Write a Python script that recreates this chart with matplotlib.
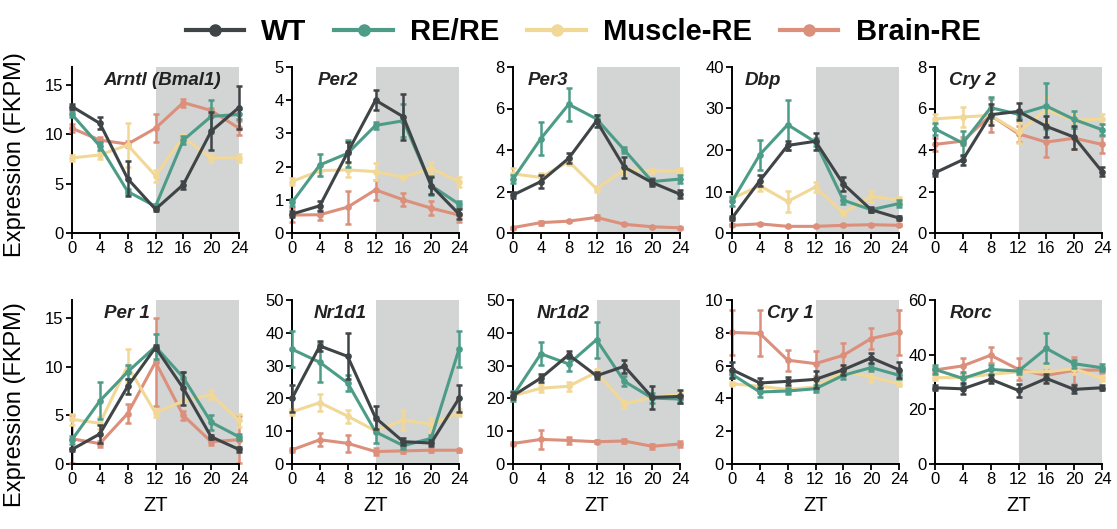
import matplotlib.pyplot as plt
from matplotlib.lines import Line2D
import numpy as np

plt.rcParams['font.family'] = ['Liberation Sans', 'DejaVu Sans']

# ZT time points and groups
zt = [0, 4, 8, 12, 16, 20, 24]
groups = ['WT', 'RE/RE', 'Muscle-RE', 'Brain-RE']
colors = ['#3f4446', '#4c9c88', '#f2d896', '#dc8f7b']

# mean expression per gene, rows in order WT, RE/RE, Muscle-RE, Brain-RE
arntl_mean = [[12.8, 11.1, 5.5, 2.4, 4.9, 10.3, 12.7],
              [12.0, 8.8, 4.2, 2.7, 9.4, 11.8, 12.0],
              [7.6, 7.9, 8.9, 5.8, 9.7, 7.6, 7.6],
              [10.6, 9.4, 9.0, 10.6, 13.2, 12.4, 10.6]]
arntl_sem = [[0.3, 0.6, 1.8, 0.2, 0.4, 1.9, 2.2],
             [0.3, 0.4, 0.3, 0.2, 0.4, 1.7, 0.5],
             [0.3, 0.4, 2.2, 0.6, 0.3, 0.4, 0.4],
             [0.4, 0.3, 0.3, 1.4, 0.4, 0.3, 0.7]]

per2_mean = [[0.57, 0.82, 2.43, 4.0, 3.5, 1.43, 0.57],
             [0.92, 2.05, 2.4, 3.24, 3.38, 1.43, 0.87],
             [1.55, 1.88, 1.9, 1.85, 1.68, 1.95, 1.55],
             [0.54, 0.55, 0.78, 1.3, 1.0, 0.75, 0.54]]
per2_sem = [[0.1, 0.15, 0.3, 0.3, 0.7, 0.25, 0.15],
            [0.1, 0.33, 0.4, 0.1, 0.5, 0.3, 0.1],
            [0.1, 0.15, 0.2, 0.25, 0.05, 0.2, 0.15],
            [0.2, 0.15, 0.5, 0.3, 0.2, 0.2, 0.2]]

per3_mean = [[1.83, 2.48, 3.6, 5.4, 3.17, 2.43, 1.87],
             [2.6, 4.55, 6.2, 5.5, 4.0, 2.48, 2.6],
             [2.85, 2.68, 3.45, 2.13, 3.05, 3.0, 2.97],
             [0.26, 0.5, 0.57, 0.75, 0.42, 0.3, 0.25]]
per3_sem = [[0.15, 0.3, 0.25, 0.3, 0.5, 0.15, 0.2],
            [0.2, 0.8, 0.8, 0.2, 0.15, 0.15, 0.2],
            [0.3, 0.2, 0.15, 0.15, 0.2, 0.1, 0.15],
            [0.05, 0.1, 0.05, 0.1, 0.05, 0.05, 0.05]]

dbp_mean = [[3.6, 12.6, 21.1, 22.1, 11.8, 5.6, 3.6],
            [7.6, 18.9, 26.1, 21.9, 7.9, 5.6, 7.1],
            [8.3, 11.4, 7.6, 11.1, 4.8, 8.8, 8.0],
            [1.85, 2.2, 1.6, 1.6, 1.85, 2.0, 1.85]]
dbp_sem = [[0.5, 1.3, 1.0, 2.0, 1.6, 0.6, 0.5],
           [1.0, 3.6, 6.0, 1.0, 1.0, 0.5, 0.8],
           [0.5, 1.2, 2.5, 1.3, 0.5, 1.4, 0.6],
           [0.2, 0.3, 0.2, 0.2, 0.2, 0.2, 0.2]]

cry2_mean = [[2.9, 3.53, 5.7, 5.86, 5.14, 4.62, 2.96],
             [5.02, 4.33, 6.04, 5.72, 6.12, 5.47, 4.98],
             [5.5, 5.59, 5.67, 4.86, 5.94, 5.43, 5.5],
             [4.27, 4.43, 5.67, 4.78, 4.38, 4.57, 4.27]]
cry2_sem = [[0.15, 0.25, 0.5, 0.4, 0.5, 0.55, 0.2],
            [0.3, 0.6, 0.5, 0.2, 1.1, 0.4, 0.25],
            [0.25, 0.5, 0.3, 0.5, 0.6, 0.3, 0.25],
            [0.3, 0.2, 0.8, 0.4, 0.7, 0.5, 0.4]]

per1_mean = [[1.5, 3.1, 8.0, 12.0, 7.8, 2.8, 1.5],
             [2.5, 6.5, 9.5, 12.1, 8.9, 4.3, 2.8],
             [4.6, 4.2, 10.1, 5.25, 6.5, 7.15, 4.5],
             [2.6, 2.1, 5.2, 10.5, 5.0, 2.3, 2.5]]
per1_sem = [[0.2, 0.9, 0.8, 0.3, 1.7, 0.2, 0.3],
            [0.4, 1.9, 0.7, 1.3, 0.6, 0.8, 0.3],
            [0.6, 0.6, 1.7, 0.4, 0.3, 0.5, 0.7],
            [2.5, 0.3, 1.0, 4.5, 0.5, 0.3, 2.4]]

nr1d1_mean = [[20.0, 36.0, 32.8, 14.1, 6.8, 6.4, 20.0],
              [35.0, 31.0, 24.7, 9.8, 5.6, 7.8, 35.0],
              [15.9, 18.7, 14.6, 10.1, 13.4, 12.1, 15.7],
              [4.3, 7.4, 6.3, 3.8, 4.0, 4.2, 4.2]]
nr1d1_sem = [[4.0, 1.5, 7.0, 3.5, 1.0, 1.0, 4.0],
             [5.5, 6.0, 2.5, 3.5, 1.0, 1.0, 5.5],
             [1.0, 2.5, 2.0, 0.5, 3.0, 2.0, 1.0],
             [0.5, 2.0, 2.5, 1.0, 0.5, 0.5, 0.5]]

nr1d2_mean = [[20.8, 26.2, 33.3, 26.9, 29.8, 20.3, 20.6],
              [20.8, 33.6, 30.5, 37.9, 25.2, 20.1, 19.8],
              [20.8, 23.1, 23.7, 28.0, 18.4, 20.3, 21.3],
              [6.25, 7.5, 7.2, 6.8, 7.0, 5.4, 6.1]]
nr1d2_sem = [[1.0, 1.3, 1.0, 1.0, 2.0, 3.5, 2.0],
             [1.5, 3.5, 2.0, 5.5, 1.5, 1.5, 1.2],
             [0.5, 1.2, 1.3, 1.0, 1.2, 0.5, 1.0],
             [0.5, 2.8, 1.0, 0.5, 0.5, 0.7, 0.8]]

cry1_mean = [[5.75, 4.94, 5.04, 5.16, 5.75, 6.47, 5.75],
             [5.47, 4.39, 4.45, 4.59, 5.41, 5.88, 5.41],
             [4.9, 4.73, 4.55, 4.69, 5.65, 5.31, 4.9],
             [8.02, 7.96, 6.33, 6.12, 6.63, 7.65, 8.02]]
cry1_sem = [[0.5, 0.3, 0.25, 0.5, 0.3, 0.3, 0.5],
            [0.2, 0.3, 0.2, 0.2, 0.2, 0.2, 0.2],
            [0.1, 0.3, 0.2, 0.3, 0.3, 0.3, 0.15],
            [1.35, 1.4, 0.65, 0.75, 0.75, 0.65, 1.35]]

rorc_mean = [[27.9, 27.5, 31.0, 26.9, 31.3, 27.3, 27.9],
             [34.6, 31.3, 34.6, 34.0, 42.3, 36.7, 35.2],
             [31.6, 31.6, 32.8, 33.7, 33.7, 34.9, 31.3],
             [34.4, 35.9, 39.8, 34.6, 32.4, 34.3, 34.4]]
rorc_sem = [[1.0, 2.0, 1.5, 2.5, 1.5, 1.5, 1.0],
            [1.5, 2.5, 1.5, 1.2, 5.5, 1.5, 1.3],
            [1.0, 1.0, 2.5, 1.0, 2.0, 2.0, 1.0],
            [1.2, 3.0, 3.0, 4.0, 2.0, 5.0, 1.0]]

genes = ['Arntl (Bmal1)', 'Per2', 'Per3', 'Dbp', 'Cry 2',
         'Per 1', 'Nr1d1', 'Nr1d2', 'Cry 1', 'Rorc']
means = [arntl_mean, per2_mean, per3_mean, dbp_mean, cry2_mean,
         per1_mean, nr1d1_mean, nr1d2_mean, cry1_mean, rorc_mean]
sems = [arntl_sem, per2_sem, per3_sem, dbp_sem, cry2_sem,
        per1_sem, nr1d1_sem, nr1d2_sem, cry1_sem, rorc_sem]
ymax = [16.8, 5, 8, 40, 8, 16.9, 50, 50, 10, 60]
ysteps = [5, 1, 2, 10, 2, 5, 10, 10, 2, 20]

# layout (pixels of a 1117x529 canvas)
W, H = 1117, 529
lefts = [72, 292, 513, 732, 935]
title_dx = [31, 26, 15, 13, 14, 32, 22, 24, 35, 15]
rows = [(67, 233), (300, 464)]

fig = plt.figure(figsize=(W / 100, H / 100), dpi=100)

for i, gene in enumerate(genes):
    r, c = divmod(i, 5)
    top, bot = rows[r]
    ax = fig.add_axes([lefts[c] / W, 1 - bot / H, 167 / W, (bot - top) / H])
    ax.axvspan(12, 24, color='#d3d4d4', lw=0, zorder=0)
    # draw Brain-RE first so WT sits on top
    for g in [3, 2, 1, 0]:
        ax.errorbar(zt, means[i][g], yerr=sems[i][g], color=colors[g],
                    lw=2.2, marker='o', ms=3.8, capsize=2.2, elinewidth=1.8,
                    capthick=1.8, clip_on=False, zorder=2 + (3 - g))
    ax.set_xlim(0, 24)
    ax.set_ylim(0, ymax[i])
    ax.set_xticks(zt)
    ax.set_yticks(np.arange(0, ymax[i] + 0.01, ysteps[i]))
    for s in ['top', 'right']:
        ax.spines[s].set_visible(False)
    for s in ['left', 'bottom']:
        ax.spines[s].set_linewidth(1.4)
    ax.tick_params(labelsize=12, length=4, width=1.3, pad=2)
    ax.text(title_dx[i] / 167, 0.92, gene, transform=ax.transAxes,
            fontsize=13.5, fontweight='bold', fontstyle='italic',
            color='#222222', va='center', ha='left')
    if r == 1:
        ax.set_xlabel('ZT', fontsize=14.5, labelpad=6)

fig.text(15 / W, 1 - 155 / H, 'Expression (FKPM)', rotation=90,
         fontsize=17, ha='center', va='center')
fig.text(15 / W, 1 - 405 / H, 'Expression (FKPM)', rotation=90,
         fontsize=17, ha='center', va='center')

handles = [Line2D([], [], color=col, lw=3, marker='o', ms=8) for col in colors]
fig.legend(handles, groups, loc='center', bbox_to_anchor=(0.522, 0.94),
           ncol=4, frameon=False, handlelength=2.0, handletextpad=0.6,
           columnspacing=0.95, prop={'size': 21, 'weight': 'bold'})

fig.savefig('out.png', dpi=100)
